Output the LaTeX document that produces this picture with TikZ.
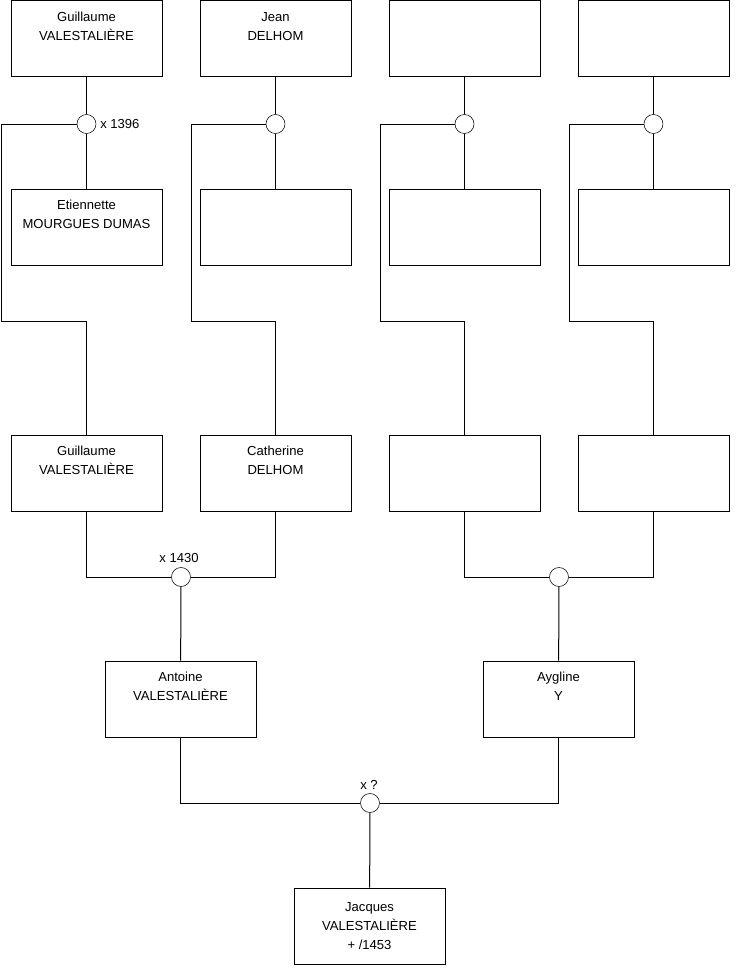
\documentclass[tikz,border=0pt]{standalone}
\usepackage{fontspec}
\setmainfont{Liberation Sans}
\usetikzlibrary{positioning}

\begin{document}
\begin{tikzpicture}
[x=0.75pt,y=-0.75pt,
person/.style={draw,rectangle,minimum width=113.25pt,minimum height=57pt,inner sep=0pt,align=center,font=\fontsize{9.8}{14.25}\selectfont},
union/.style={draw,circle,minimum size=14.25pt,inner sep=0pt,fill=white},
unionLabel/.style={font=\fontsize{9.8}{12}\selectfont,inner sep=0pt},
edge/.style={line width=0.75pt}]
\useasboundingbox (0,0) rectangle (740,975);
% first generation
\node[person] (gf1) at (86.5,38.5) {Guillaume\\VALESTALIÈRE\\\strut};
\node[person] (gf2) at (275.5,38.5) {Jean\\DELHOM\\\strut};
\node[person] (gf3) at (464.5,38.5) {};
\node[person] (gf4) at (653.5,38.5) {};
\node[person] (gm1) at (86.5,227) {Etiennette\\MOURGUES DUMAS\\\strut};
\node[person] (gm2) at (275.5,227) {};
\node[person] (gm3) at (464.5,227) {};
\node[person] (gm4) at (653.5,227) {};
\node[union] (u1) at (86.5,124) {};
\node[union] (u2) at (275.5,124) {};
\node[union] (u3) at (464.5,124) {};
\node[union] (u4) at (653.5,124) {};
\node[unionLabel,anchor=west] (l1) at (100,124) {x 1396};
% second generation
\node[person] (p1) at (86.5,473) {Guillaume\\VALESTALIÈRE\\\strut};
\node[person] (p2) at (275.5,473) {Catherine\\DELHOM\\\strut};
\node[person] (p3) at (464.5,473) {};
\node[person] (p4) at (653.5,473) {};
\node[union] (u5) at (181,577) {};
\node[union] (u6) at (559,577) {};
\node[unionLabel] (l5) at (179,558) {x 1430};
% third generation
\node[person] (a1) at (180.5,699) {Antoine\\VALESTALIÈRE\\\strut};
\node[person] (a2) at (558.5,699) {Aygline\\Y\\\strut};
\node[union] (u7) at (370,803) {};
\node[unionLabel] (l7) at (369,785) {x ?};
\node[person] (j) at (369.5,926) {Jacques\\VALESTALIÈRE\\+ /1453};
% bends
\coordinate (k1) at (1,321);
\coordinate (k2) at (191,321);
\coordinate (k3) at (380,321);
\coordinate (k4) at (569,321);
\draw[edge] (gf1) -- (u1) -- (gm1);
\draw[edge] (gf2) -- (u2) -- (gm2);
\draw[edge] (gf3) -- (u3) -- (gm3);
\draw[edge] (gf4) -- (u4) -- (gm4);
\draw[edge] (u1.west) -| (k1) -| (p1.north);
\draw[edge] (u2.west) -| (k2) -| (p2.north);
\draw[edge] (u3.west) -| (k3) -| (p3.north);
\draw[edge] (u4.west) -| (k4) -| (p4.north);
\draw[edge] (p1.south) |- (u5.west);
\draw[edge] (u5.east) -| (p2.south);
\draw[edge] (p3.south) |- (u6.west);
\draw[edge] (u6.east) -| (p4.south);
\draw[edge] (u5) -- (a1);
\draw[edge] (u6) -- (a2);
\draw[edge] (a1.south) |- (u7.west);
\draw[edge] (u7.east) -| (a2.south);
\draw[edge] (u7) -- (j);
\end{tikzpicture}
\end{document}
